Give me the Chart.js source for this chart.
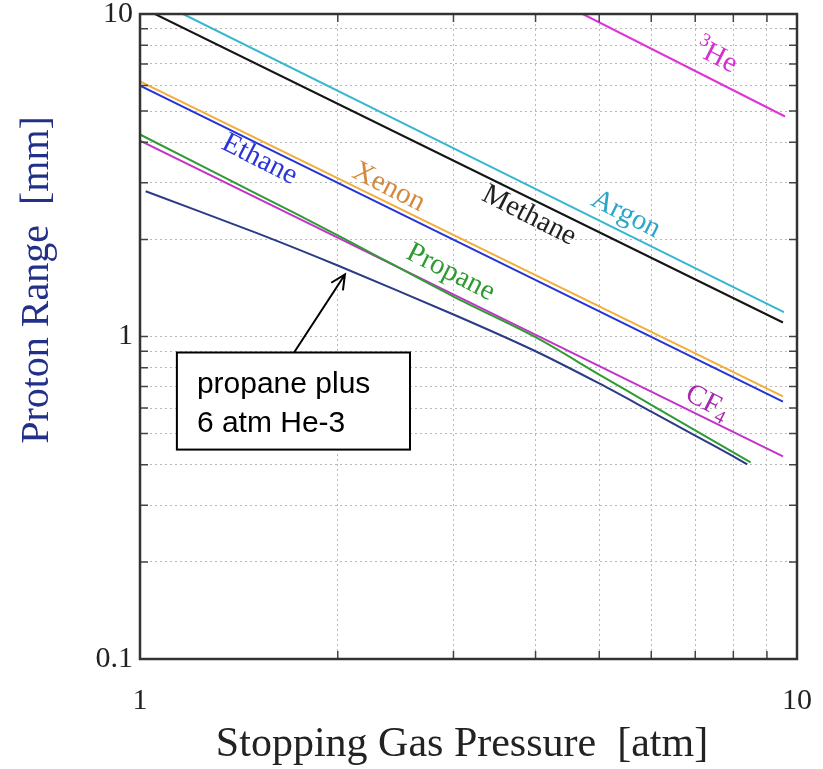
<!DOCTYPE html>
<html>
<head>
<meta charset="utf-8">
<script src="https://cdn.jsdelivr.net/npm/chart.js@4"></script>
<style>
  html, body { margin: 0; padding: 0; background: #fff; }
  canvas { display: block; }
</style>
</head>
<body>
<canvas id="rangeChart" width="823" height="769"></canvas>
<script>
// proton range [mm] vs stopping gas pressure [atm]
const methaneP = [1.054, 9.52];
const methaneR = [10, 1.105];
const argonP = [1.163, 9.55];
const argonR = [10, 1.19];
const he3P = [4.72, 9.59];
const he3R = [10, 4.81];
const xenonP = [1, 9.52];
const xenonR = [6.18, 0.652];
const ethaneP = [1, 9.52];
const ethaneR = [6.0, 0.628];
const cf4P = [1, 9.52];
const cf4R = [4.05, 0.425];
const propaneP = [1, 1.5, 2, 3, 4, 5, 6, 7, 8, 8.5];
const propaneR = [4.23, 2.78, 2.06, 1.33, 0.995, 0.762, 0.614, 0.512, 0.437, 0.407];
const mixP = [1.02, 1.5, 2, 3, 4, 5, 6, 7, 8, 8.4];
const mixR = [2.82, 2.10, 1.66, 1.17, 0.90, 0.715, 0.585, 0.493, 0.425, 0.401];

// grid / tick positions
const xGridValues = [1, 2, 3, 4, 5, 6, 7, 8, 9, 10];
const yGridValues = [0.1, 0.2, 0.3, 0.4, 0.5, 0.6, 0.7, 0.8, 0.9, 1, 2, 3, 4, 5, 6, 7, 8, 9, 10];
const xTickLabels = ['1', '10'];
const yTickLabels = ['0.1', '1', '10'];

// in-plot gas names, placed in data coordinates
const gasNames = ['Ethane', 'Xenon', 'Methane', 'Argon', 'He', 'Propane', 'CF'];
const gasLabelP = [1.52, 2.39, 3.91, 5.49, 7.53, 2.97, 7.30];
const gasLabelR = [3.54, 2.90, 2.37, 2.39, 7.38, 1.58, 0.624];

const calloutText = ['propane plus', '6 atm He-3'];

const SERIF = "'Liberation Serif', 'Times New Roman', serif";
const SANS = "'Liberation Sans', Arial, sans-serif";

function decadeLabel(value, labels) {
    let e = Math.log10(value);
    if (Math.abs(e - Math.round(e)) > 1e-6) return '';
    return labels.find(l => Math.abs(parseFloat(l) - value) < 1e-9) || '';
}

function mkSet(label, P, R, color) {
    return {
        label: label,
        data: P.map((p, i) => ({ x: p, y: R[i] })),
        borderColor: color,
        backgroundColor: color,
        borderWidth: 2,
        showLine: true,
        pointRadius: 0,
        fill: false,
        tension: 0.3
    };
}

// keep the tick labels from pushing the plot area around
function noOverhang(s) {
    s.paddingTop = 0; s.paddingBottom = 0; s.paddingLeft = 0; s.paddingRight = 0;
}

const labelStyles = [
    { color: '#2a35d8' },
    { color: '#d4893a' },
    { color: '#222222' },
    { color: '#2aa6c8' },
    { color: '#d52fd0', sup: '3' },
    { color: '#2e9a30' },
    { color: '#a828b0', sub: '4' }
];

const decorPlugin = {
    id: 'decor',
    afterDraw(chart) {
        const ctx = chart.ctx;
        const area = chart.chartArea;
        const xs = chart.scales.x, ys = chart.scales.y;

        // inward tick marks
        ctx.save();
        ctx.strokeStyle = '#444';
        ctx.lineWidth = 1.5;
        xs.ticks.forEach(t => {
            let px = xs.getPixelForValue(t.value);
            ctx.beginPath();
            ctx.moveTo(px, area.bottom); ctx.lineTo(px, area.bottom - 8);
            ctx.moveTo(px, area.top); ctx.lineTo(px, area.top + 8);
            ctx.stroke();
        });
        ys.ticks.forEach(t => {
            let py = ys.getPixelForValue(t.value);
            ctx.beginPath();
            ctx.moveTo(area.left, py); ctx.lineTo(area.left + 8, py);
            ctx.moveTo(area.right, py); ctx.lineTo(area.right - 8, py);
            ctx.stroke();
        });

        // frame
        ctx.strokeStyle = '#333';
        ctx.lineWidth = 2.5;
        ctx.strokeRect(area.left, area.top, area.right - area.left, area.bottom - area.top);

        // gas names along the lines
        const ang = 27 * Math.PI / 180;
        gasNames.forEach((name, i) => {
            let st = labelStyles[i];
            let px = xs.getPixelForValue(gasLabelP[i]);
            let py = ys.getPixelForValue(gasLabelR[i]);
            ctx.save();
            ctx.translate(px, py);
            ctx.rotate(ang);
            ctx.fillStyle = st.color;
            ctx.textBaseline = 'middle';
            ctx.textAlign = 'left';
            ctx.font = '29px ' + SERIF;
            let w = ctx.measureText(name).width;
            ctx.font = '19px ' + SERIF;
            let ws = st.sup ? ctx.measureText(st.sup).width : 0;
            let wb = st.sub ? ctx.measureText(st.sub).width : 0;
            let x0 = -(w + ws + wb) / 2;
            if (st.sup) { ctx.fillText(st.sup, x0, -9); x0 += ws; }
            ctx.font = '29px ' + SERIF;
            ctx.fillText(name, x0, 0);
            if (st.sub) { ctx.font = '19px ' + SERIF; ctx.fillText(st.sub, x0 + w, 8); }
            ctx.restore();
        });

        // callout box and arrow
        let bx0 = xs.getPixelForValue(1.138), by0 = ys.getPixelForValue(0.892);
        let bx1 = xs.getPixelForValue(2.576), by1 = ys.getPixelForValue(0.446);
        let tx = xs.getPixelForValue(1.716), ty = by0;
        let hx = xs.getPixelForValue(2.051), hy = ys.getPixelForValue(1.557);
        ctx.strokeStyle = '#000';
        ctx.lineWidth = 2;
        ctx.beginPath();
        ctx.moveTo(tx, ty); ctx.lineTo(hx, hy);
        let a = Math.atan2(hy - ty, hx - tx);
        ctx.moveTo(hx - 16 * Math.cos(a - 0.45), hy - 16 * Math.sin(a - 0.45));
        ctx.lineTo(hx, hy);
        ctx.lineTo(hx - 16 * Math.cos(a + 0.45), hy - 16 * Math.sin(a + 0.45));
        ctx.stroke();
        ctx.fillStyle = '#fff';
        ctx.fillRect(bx0, by0, bx1 - bx0, by1 - by0);
        ctx.strokeRect(bx0, by0, bx1 - bx0, by1 - by0);
        ctx.fillStyle = '#000';
        ctx.font = '30px ' + SANS;
        ctx.textAlign = 'left';
        ctx.textBaseline = 'alphabetic';
        ctx.fillText(calloutText[0], bx0 + 20, by0 + 40);
        ctx.fillText(calloutText[1], bx0 + 20, by0 + 79);

        // axis titles
        ctx.fillStyle = '#222';
        ctx.font = '42px ' + SERIF;
        ctx.textAlign = 'center';
        ctx.textBaseline = 'middle';
        ctx.fillText('Stopping Gas Pressure  [atm]', 462, 745);
        ctx.save();
        ctx.translate(37, 280);
        ctx.rotate(-Math.PI / 2);
        ctx.fillStyle = '#23308a';
        ctx.font = '40px ' + SERIF;
        ctx.fillText('Proton Range  [mm]', 0, 0);
        ctx.restore();
        ctx.restore();
    }
};

const gridOpts = { color: '#b8b8b8', lineWidth: 1, drawTicks: false, borderDash: [2, 3] };

new Chart(document.getElementById('rangeChart').getContext('2d'), {
    type: 'scatter',
    data: {
        datasets: [
            mkSet('propane plus 6 atm He-3', mixP, mixR, '#2b3b86'),
            mkSet('Propane', propaneP, propaneR, '#2f9b33'),
            mkSet('CF4', cf4P, cf4R, '#c233c9'),
            mkSet('Ethane', ethaneP, ethaneR, '#2434d6'),
            mkSet('Xenon', xenonP, xenonR, '#f2ae3a'),
            mkSet('Methane', methaneP, methaneR, '#151515'),
            mkSet('Argon', argonP, argonR, '#35b7d0'),
            mkSet('3He', he3P, he3R, '#dc35d8')
        ]
    },
    options: {
        responsive: false,
        animation: false,
        layout: { padding: { top: 14, right: 26, bottom: 0, left: 0 } },
        plugins: { legend: { display: false }, tooltip: { enabled: false } },
        scales: {
            x: {
                type: 'logarithmic', min: 1, max: 10,
                afterBuildTicks: s => { s.ticks = xGridValues.map(v => ({ value: v })); },
                afterFit: s => { s.height = 110; noOverhang(s); },
                grid: gridOpts,
                border: { display: false, dash: [2, 3] },
                ticks: {
                    autoSkip: false, maxRotation: 0, padding: 24, color: '#222',
                    font: { family: SERIF, size: 30 },
                    callback: v => decadeLabel(v, xTickLabels)
                }
            },
            y: {
                type: 'logarithmic', min: 0.1, max: 10,
                afterBuildTicks: s => { s.ticks = yGridValues.map(v => ({ value: v })); },
                afterFit: s => { s.width = 140; noOverhang(s); },
                grid: gridOpts,
                border: { display: false, dash: [2, 3] },
                ticks: {
                    autoSkip: false, padding: 7, color: '#222',
                    font: { family: SERIF, size: 30 },
                    callback: v => decadeLabel(v, yTickLabels)
                }
            }
        }
    },
    plugins: [decorPlugin]
});
</script>
</body>
</html>
